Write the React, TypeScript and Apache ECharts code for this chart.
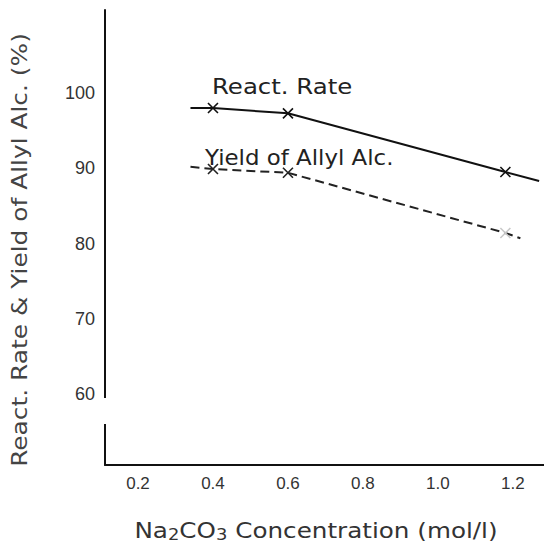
import React, { useEffect, useRef } from "react";
import * as echarts from "echarts";

// Na2CO3 concentration (mol/l) and measured values (%)
const rateX = [0.34, 0.4, 0.6, 1.18, 1.27];
const rateY = [98.0, 98.0, 97.3, 89.5, 88.3];
const rateMarked = [false, true, true, true, false];

const yieldX = [0.34, 0.4, 0.6, 1.18, 1.22];
const yieldY = [90.2, 89.9, 89.4, 81.4, 80.7];
const yieldMarked = [false, true, true, true, false];

const xTicks = [0.2, 0.4, 0.6, 0.8, 1.0, 1.2];
const yTicks = [60, 70, 80, 90, 100];

const CROSS = "path://M0 0L10 10M10 0L0 10";

function build(xs: number[], ys: number[], marked: boolean[]) {
  return xs.map((x, i) =>
    marked[i] ? { value: [x, ys[i]] } : { value: [x, ys[i]], symbol: "none" }
  );
}

export default function App() {
  const ref = useRef<HTMLDivElement>(null);
  useEffect(() => {
    if (!ref.current) return;
    const chart = echarts.init(ref.current, undefined, { renderer: "svg" });
    const rateData = build(rateX, rateY, rateMarked);
    const yieldData = build(yieldX, yieldY, yieldMarked);
    // faint last yield marker (as in the scan)
    (yieldData[3] as any).itemStyle = { borderColor: "#c8c8c8" };
    chart.setOption({
      animation: false,
      backgroundColor: "#ffffff",
      grid: {
        left: 105,
        right: 0,
        top: 10,
        bottom: 84,
        outerBoundsMode: "none",
        containLabel: false,
      },
      xAxis: {
        type: "value",
        min: 0.112,
        max: 1.283,
        splitLine: { show: false },
        axisTick: { show: false },
        axisLine: { show: true, lineStyle: { color: "#111", width: 2 } },
        axisLabel: {
          customValues: xTicks,
          formatter: (v: number) => v.toFixed(1),
          color: "#333",
          fontFamily: "Liberation Sans",
          fontSize: 17,
          margin: 10,
        },
      },
      yAxis: {
        type: "value",
        min: 50.57,
        max: 111.03,
        splitLine: { show: false },
        axisTick: { show: false },
        axisLine: { show: true, lineStyle: { color: "#111", width: 2 } },
        axisLabel: {
          customValues: yTicks,
          color: "#333",
          fontFamily: "Liberation Sans",
          fontSize: 18,
          margin: 10,
        },
      },
      series: [
        {
          name: "React. Rate",
          type: "line",
          data: rateData,
          symbol: CROSS,
          symbolSize: 10,
          showAllSymbol: true,
          itemStyle: { color: "none", borderColor: "#111", borderWidth: 1.6 },
          lineStyle: { color: "#111", width: 2 },
          z: 3,
        },
        {
          name: "Yield of Allyl Alc.",
          type: "line",
          data: yieldData,
          symbol: CROSS,
          symbolSize: 10,
          showAllSymbol: true,
          itemStyle: { color: "none", borderColor: "#222", borderWidth: 1.6 },
          lineStyle: { color: "#222", width: 2, type: [9, 5] },
          z: 3,
        },
      ],
      graphic: [
        // break in the vertical axis
        {
          type: "rect",
          shape: { x: 98, y: 398, width: 14, height: 26 },
          style: { fill: "#ffffff" },
          z: 100,
        },
        {
          type: "text",
          x: 212,
          y: 86,
          scaleX: 1.11,
          style: {
            text: "React. Rate",
            fill: "#222",
            font: '22px "DejaVu Sans"',
            align: "left",
            verticalAlign: "middle",
          },
          z: 50,
        },
        {
          type: "text",
          x: 205,
          y: 157,
          scaleX: 1.04,
          style: {
            text: "Yield of Allyl Alc.",
            fill: "#222",
            font: '22px "DejaVu Sans"',
            align: "left",
            verticalAlign: "middle",
          },
          z: 50,
        },
        {
          type: "text",
          x: 20,
          y: 250,
          rotation: Math.PI / 2,
          scaleX: 1.13,
          style: {
            text: "React. Rate & Yield of Allyl Alc. (%)",
            fill: "#444",
            font: '22px "DejaVu Sans"',
            align: "center",
            verticalAlign: "middle",
          },
          z: 50,
        },
        {
          type: "text",
          x: 316,
          y: 530,
          scaleX: 1.12,
          style: {
            text: "Na{sub|2}CO{sub|3} Concentration (mol/l)",
            fill: "#333",
            font: '22px "DejaVu Sans"',
            align: "center",
            verticalAlign: "middle",
            rich: {
              sub: {
                font: '16px "DejaVu Sans"',
                fill: "#333",
                padding: [8, 0, 0, 0],
              },
            },
          },
          z: 50,
        },
      ],
    });
    return () => chart.dispose();
  }, []);
  return (
    <div
      ref={ref}
      style={{ position: "absolute", left: 0, top: 0, width: 544, height: 549 }}
    />
  );
}
